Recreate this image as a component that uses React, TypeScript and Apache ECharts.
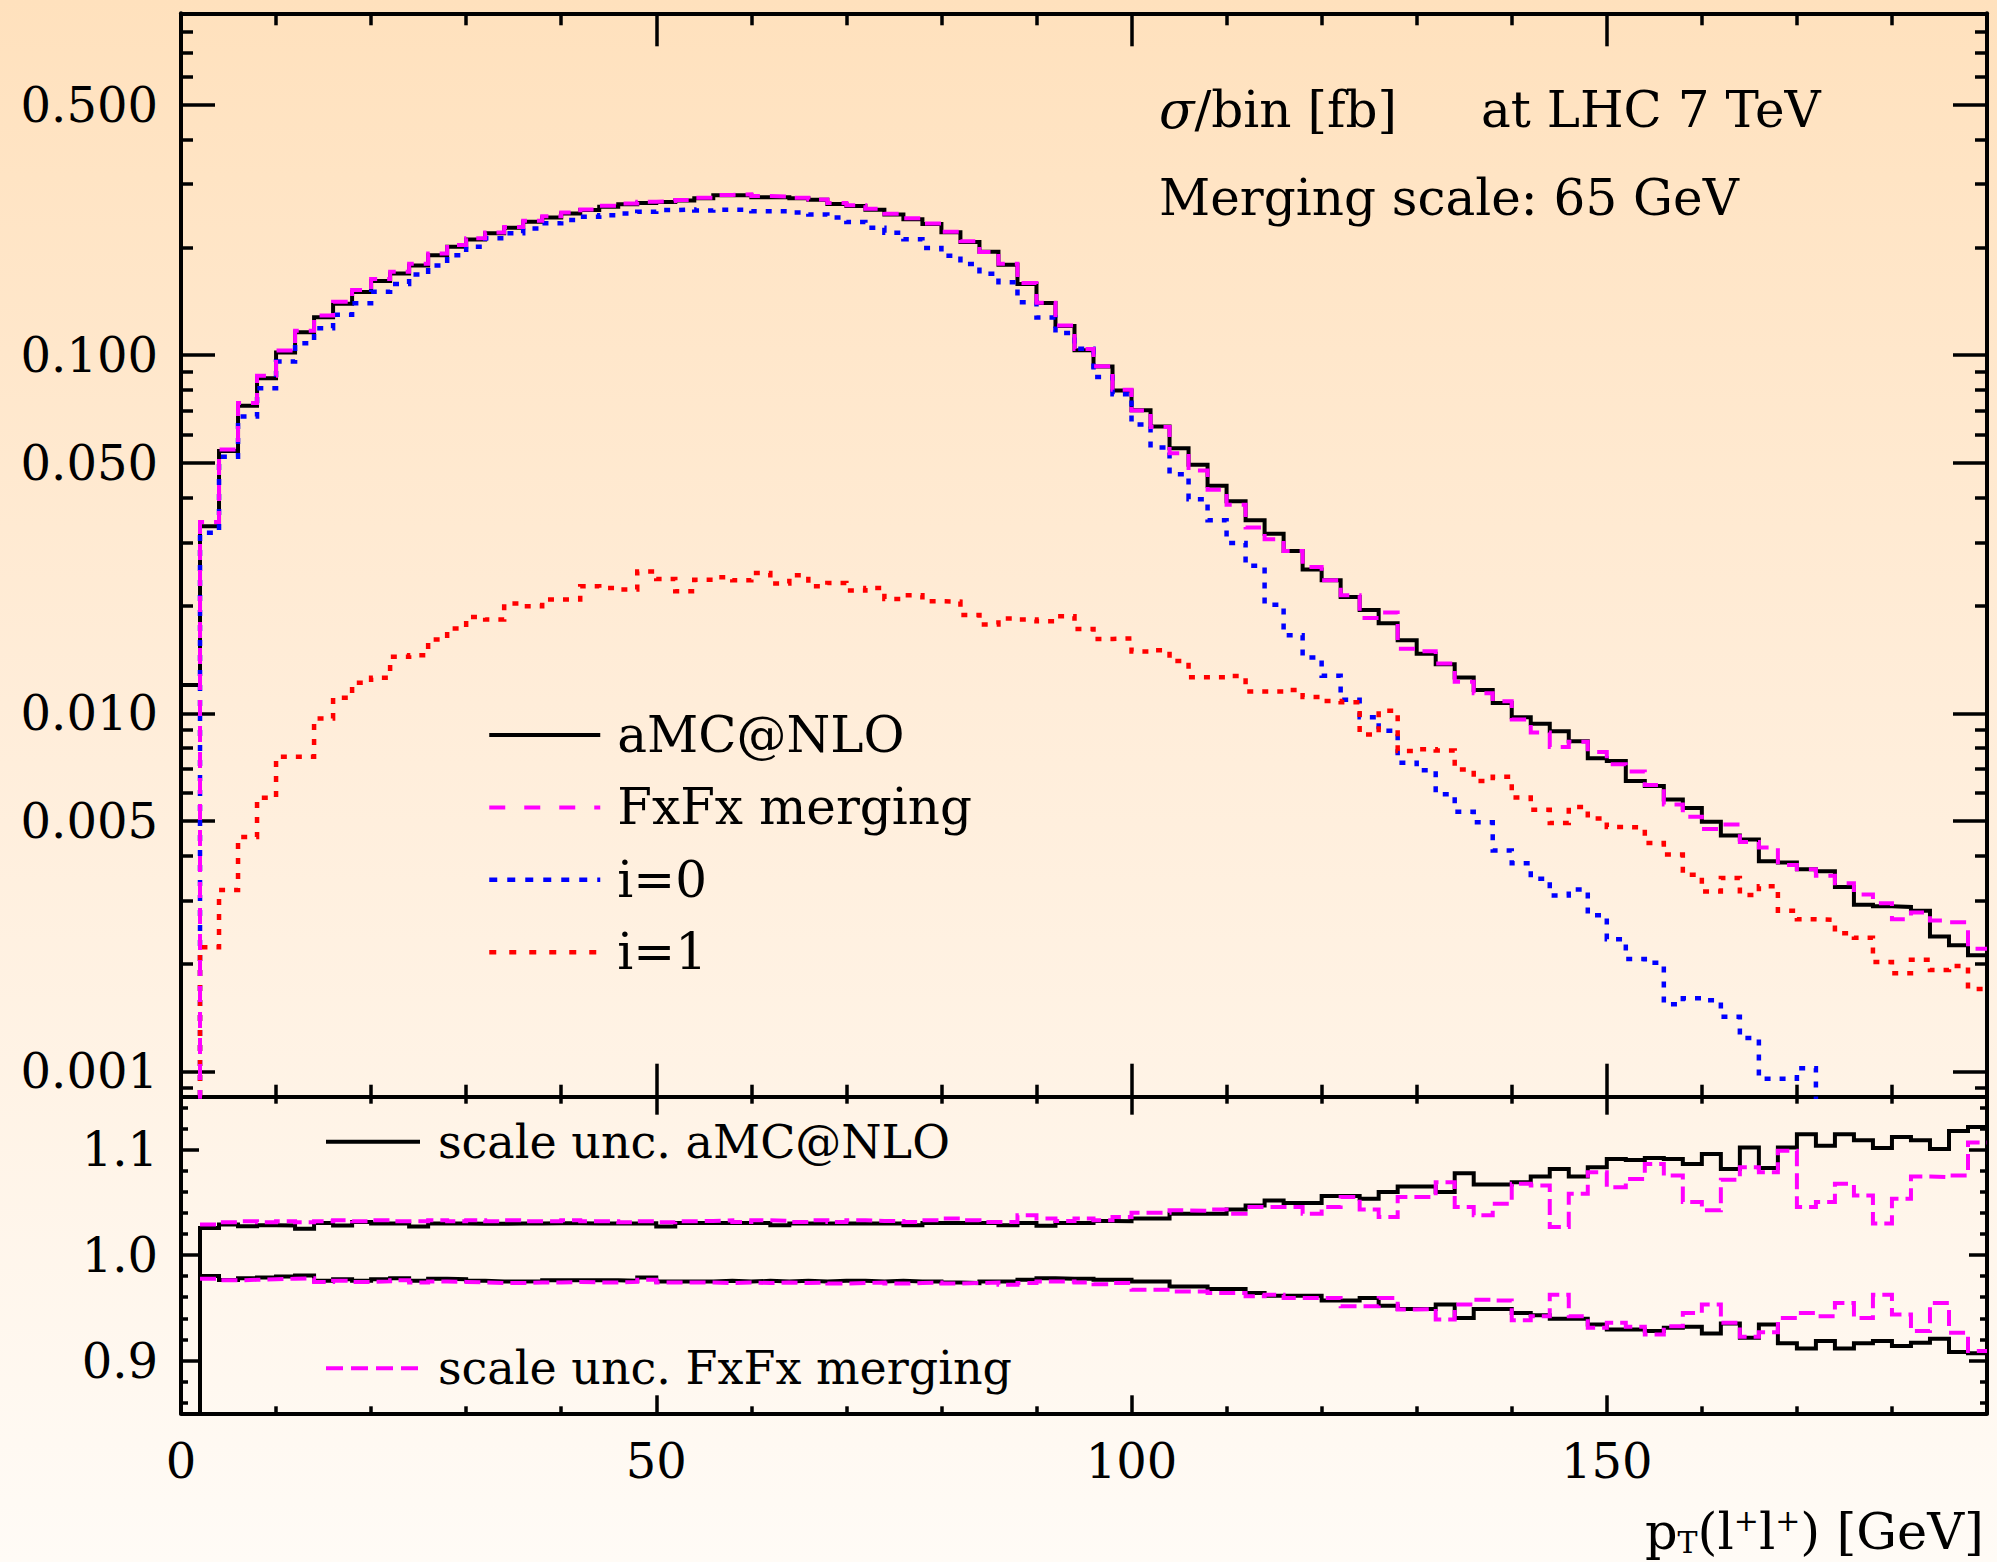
import React, { useEffect, useRef } from 'react';
import * as echarts from 'echarts';

// ---------------- data ----------------
const BIN_LOW_EDGE = 2; // GeV, lower edge of the first filled bin
const BIN_WIDTH = 2; // GeV
const X_MIN = 0;
const X_MAX = 190;

// sigma/bin [fb], bins [2,4], [4,6], ..., [188,190]
const underflowAmcnlo = 0.012; // aMC@NLO in the [0,2] bin
const emptyBin = 1e-6; // other curves: [0,2] bin below plotted range

const sigmaAmcnlo = [
  0.0333, 0.054, 0.0722, 0.0862, 0.1016, 0.1158, 0.1275, 0.139, 0.150, 0.161,
  0.169, 0.178, 0.190, 0.2007, 0.2104, 0.2187, 0.2268, 0.2357, 0.2423, 0.2486,
  0.254, 0.2595, 0.2635, 0.266, 0.2675, 0.270, 0.274, 0.2793, 0.2793, 0.276,
  0.276, 0.274, 0.2713, 0.264, 0.2609, 0.2545, 0.247, 0.2393, 0.2324, 0.2202,
  0.207, 0.1942, 0.1786, 0.158, 0.1397, 0.1206, 0.1032, 0.0929, 0.0797, 0.0701,
  0.0632, 0.0549, 0.0494, 0.0432, 0.0391, 0.0346, 0.0317, 0.0284, 0.0252, 0.0235,
  0.0211, 0.01943, 0.01784, 0.016, 0.01466, 0.0137, 0.01258, 0.01162, 0.01068, 0.00975,
  0.00935, 0.00891, 0.00835, 0.00749, 0.00736, 0.00647, 0.00626, 0.00574, 0.00544, 0.00498,
  0.00456, 0.00444, 0.00386, 0.00383, 0.00367, 0.00362, 0.00327, 0.00292, 0.00289, 0.00288,
  0.00281, 0.00238, 0.00225, 0.00211,
];

const sigmaFxFx = [
  0.0342, 0.0545, 0.0735, 0.0875, 0.103, 0.117, 0.129, 0.141, 0.152, 0.163,
  0.171, 0.180, 0.192, 0.203, 0.212, 0.220, 0.228, 0.237, 0.244, 0.250,
  0.255, 0.261, 0.265, 0.268, 0.269, 0.271, 0.275, 0.280, 0.281, 0.278,
  0.277, 0.275, 0.272, 0.266, 0.262, 0.256, 0.248, 0.241, 0.233, 0.221,
  0.208, 0.194, 0.180, 0.159, 0.140, 0.121, 0.104, 0.093, 0.080, 0.070,
  0.063, 0.0532, 0.0476, 0.0421, 0.0382, 0.033, 0.0306, 0.0284, 0.0256, 0.0235,
  0.02136, 0.01845, 0.0191, 0.01513, 0.0149, 0.01377, 0.01225, 0.01137, 0.0108, 0.0096,
  0.00883, 0.00805, 0.00833, 0.0078, 0.0072, 0.00688, 0.0063, 0.00556, 0.00514, 0.00475,
  0.00489, 0.00437, 0.00422, 0.00377, 0.00367, 0.00352, 0.00335, 0.00312, 0.00295, 0.00266,
  0.00278, 0.00264, 0.00261, 0.0022,
];

const sigmaI0 = [
  0.0319, 0.052, 0.0674, 0.0808, 0.0959, 0.1079, 0.1189, 0.1295, 0.1395, 0.1503,
  0.158, 0.168, 0.178, 0.190, 0.2007, 0.2118, 0.2187, 0.2258, 0.2332, 0.2382,
  0.2433, 0.2457, 0.2486, 0.2513, 0.254, 0.255, 0.2532, 0.2545, 0.2545, 0.252,
  0.252, 0.2502, 0.247, 0.2422, 0.2353, 0.2268, 0.2196, 0.2106, 0.1991, 0.1895,
  0.1795, 0.1688, 0.1596, 0.1404, 0.1273, 0.1153, 0.1041, 0.0869, 0.0778, 0.064,
  0.0552, 0.0465, 0.0396, 0.0346, 0.0299, 0.0258, 0.0201, 0.0165, 0.0143, 0.01272,
  0.0109, 0.00975, 0.00894, 0.00728, 0.00693, 0.00594, 0.00531, 0.00496, 0.00414, 0.00381,
  0.00345, 0.0031, 0.00322, 0.00273, 0.00234, 0.00206, 0.00201, 0.00154, 0.0016, 0.00158,
  0.00142, 0.00124, 0.000954, 0.000954, 0.00102, 0.0008, null, null, null, null,
  null, null, null, null,
];

const sigmaI1 = [
  0.00222, 0.00321, 0.00451, 0.00581, 0.00756, 0.00756, 0.00967, 0.01105, 0.01217, 0.01256,
  0.01438, 0.01452, 0.01606, 0.01724, 0.01858, 0.01827, 0.02024, 0.01989, 0.02077, 0.02077,
  0.02262, 0.02238, 0.02214, 0.02489, 0.02371, 0.0219, 0.0236, 0.02396, 0.0235, 0.02465,
  0.02301, 0.02427, 0.02262, 0.02311, 0.022, 0.02238, 0.02086, 0.02135, 0.02054, 0.0205,
  0.01882, 0.01769, 0.01838, 0.01827, 0.01807, 0.01866, 0.0172, 0.01613, 0.01617, 0.01487,
  0.015, 0.014, 0.0126, 0.0126, 0.0127, 0.0115, 0.0115, 0.01162, 0.0111, 0.01082,
  0.01074, 0.00872, 0.01016, 0.00784, 0.00793, 0.00787, 0.00696, 0.00647, 0.00665, 0.00582,
  0.00538, 0.00494, 0.00547, 0.00508, 0.00481, 0.0048, 0.00434, 0.00403, 0.00354, 0.00318,
  0.00347, 0.00311, 0.00329, 0.00281, 0.00266, 0.00265, 0.00243, 0.00236, 0.00202, 0.00188,
  0.00205, 0.00192, 0.00197, 0.0017,
];

// scale-uncertainty ratio bands (upper / lower edges)
const underflowRatio = 0; // [0,2] bin: empty
const ratioAmcUp = [
  1.0257, 1.0289, 1.0273, 1.0282, 1.028, 1.0248, 1.0304, 1.028, 1.0313, 1.0298,
  1.0298, 1.027, 1.0298, 1.0298, 1.0295, 1.0295, 1.0298, 1.0298, 1.03, 1.03,
  1.0298, 1.0298, 1.0298, 1.03, 1.027, 1.0304, 1.0304, 1.0304, 1.0304, 1.0304,
  1.0282, 1.0298, 1.0298, 1.0298, 1.0298, 1.0298, 1.0298, 1.0282, 1.0304, 1.0304,
  1.0304, 1.0304, 1.0282, 1.0304, 1.0276, 1.0304, 1.0304, 1.0323, 1.032, 1.0345,
  1.0345, 1.0392, 1.0392, 1.039, 1.043, 1.047, 1.0517, 1.0492, 1.0492, 1.0558,
  1.0558, 1.0533, 1.0596, 1.0649, 1.0649, 1.0596, 1.0774, 1.0668, 1.0668, 1.069,
  1.0743, 1.0815, 1.0743, 1.0831, 1.0909, 1.09, 1.092, 1.0909, 1.0862, 1.0956,
  1.0815, 1.1019, 1.0825, 1.1019, 1.1145, 1.1035, 1.1145, 1.1088, 1.1013, 1.1119,
  1.1088, 1.1004, 1.1176, 1.1214,
];
const ratioAmcDown = [
  0.9802, 0.9762, 0.978, 0.9787, 0.9796, 0.9806, 0.9755, 0.977, 0.9755, 0.977,
  0.978, 0.9755, 0.9775, 0.977, 0.9755, 0.9749, 0.9749, 0.9752, 0.976, 0.976,
  0.976, 0.976, 0.9755, 0.9787, 0.9749, 0.9749, 0.9749, 0.9755, 0.9749, 0.9755,
  0.9749, 0.9755, 0.9749, 0.9755, 0.9755, 0.9749, 0.9755, 0.9749, 0.9749, 0.974,
  0.9734, 0.9749, 0.9749, 0.9765, 0.978, 0.9775, 0.9775, 0.9765, 0.9765, 0.9749,
  0.9749, 0.9702, 0.9702, 0.9677, 0.9677, 0.964, 0.9614, 0.9614, 0.9614, 0.957,
  0.957, 0.9592, 0.952, 0.9489, 0.9489, 0.953, 0.9404, 0.9489, 0.9489, 0.9451,
  0.9429, 0.9395, 0.9395, 0.9341, 0.9294, 0.9294, 0.9279, 0.931, 0.932, 0.9257,
  0.9351, 0.9216, 0.9341, 0.9163, 0.9113, 0.9184, 0.9113, 0.9163, 0.9184, 0.9137,
  0.9169, 0.9207, 0.9081, 0.9069,
];
const ratioFxUp = [
  1.029, 1.031, 1.032, 1.031, 1.032, 1.031, 1.032, 1.033, 1.032, 1.033,
  1.032, 1.032, 1.033, 1.032, 1.033, 1.032, 1.033, 1.032, 1.032, 1.033,
  1.032, 1.032, 1.031, 1.032, 1.031, 1.032, 1.0323, 1.0329, 1.0313, 1.0329,
  1.0323, 1.0313, 1.0329, 1.0313, 1.0329, 1.0323, 1.0323, 1.0313, 1.0329, 1.0345,
  1.0329, 1.0313, 1.0313, 1.0376, 1.0345, 1.0323, 1.0345, 1.0329, 1.036, 1.0401,
  1.0401, 1.0423, 1.042, 1.043, 1.0392, 1.0455, 1.0455, 1.0455, 1.0392, 1.0455,
  1.0549, 1.043, 1.036, 1.0549, 1.0549, 1.069, 1.0455, 1.0376, 1.0486, 1.0674,
  1.0659, 1.0266, 1.058, 1.0784, 1.0643, 1.0721, 1.0862, 1.0753, 1.0502, 1.0423,
  1.0712, 1.0831, 1.0784, 1.0988, 1.0455, 1.0502, 1.0674, 1.0564, 1.0298, 1.0533,
  1.0743, 1.0737, 1.0753, 1.1066,
];
const ratioFxDown = [
  0.9775, 0.976, 0.9765, 0.977, 0.9775, 0.978, 0.9745, 0.9755, 0.9745, 0.975,
  0.976, 0.974, 0.975, 0.9745, 0.974, 0.9735, 0.9735, 0.974, 0.974, 0.9745,
  0.974, 0.974, 0.9745, 0.9765, 0.974, 0.974, 0.9739, 0.9734, 0.9739, 0.9734,
  0.9739, 0.9734, 0.9739, 0.9729, 0.9734, 0.9739, 0.9729, 0.9734, 0.9739, 0.9729,
  0.9734, 0.9739, 0.9718, 0.9734, 0.9749, 0.9749, 0.9739, 0.9724, 0.9734, 0.9671,
  0.9671, 0.9655, 0.9655, 0.964, 0.964, 0.9608, 0.9624, 0.9592, 0.9592, 0.9592,
  0.9514, 0.9514, 0.9592, 0.9483, 0.9489, 0.9389, 0.953, 0.9577, 0.957, 0.9382,
  0.942, 0.9624, 0.942, 0.931, 0.9357, 0.932, 0.9247, 0.9326, 0.9451, 0.953,
  0.9357, 0.9226, 0.9269, 0.9404, 0.9451, 0.942, 0.9545, 0.9404, 0.9624, 0.9436,
  0.9279, 0.9545, 0.9263, 0.909,
];

// axis ranges and ticks
const TOP_MIN = 0.00085;
const TOP_MAX = 0.9;
const BOT_MIN = 0.85;
const BOT_MAX = 1.15;
const xMajorTicks = [0, 50, 100, 150];
const xMinorTicks = [10, 20, 30, 40, 60, 70, 80, 90, 110, 120, 130, 140, 160, 170, 180];
const yTopMajorTicks = [0.001, 0.005, 0.01, 0.05, 0.1, 0.5];
const yTopMinorTicks = [
  0.0009, 0.002, 0.003, 0.004, 0.006, 0.007, 0.008, 0.009,
  0.02, 0.03, 0.04, 0.06, 0.07, 0.08, 0.09,
  0.2, 0.3, 0.4, 0.6, 0.7, 0.8,
];
const yBotMajorTicks = [0.9, 1.0, 1.1];
const yBotMinorTicks = [0.86, 0.88, 0.92, 0.94, 0.96, 0.98, 1.02, 1.04, 1.06, 1.08, 1.12, 1.14];

// ---------------- layout / style ----------------
const W = 1997;
const H = 1562;
const FONT = '"DejaVu Serif", "Liberation Serif", serif';
const BLACK = '#000000';
const MAGENTA = '#ff00ff';
const BLUE = '#0000ff';
const RED = '#ff0000';

const lg = (v: number) => Math.log10(v);
const ident = (v: number) => v;

function histPoints(values: (number | null)[], lead: [number, number] | null, tf: (v: number) => number) {
  const pts: any[] = [];
  if (lead) pts.push([lead[0], tf(lead[1])]);
  values.forEach((v, i) => pts.push([BIN_LOW_EDGE + i * BIN_WIDTH, v == null ? '-' : tf(v)]));
  const last = values[values.length - 1];
  pts.push([BIN_LOW_EDGE + values.length * BIN_WIDTH, last == null ? '-' : tf(last)]);
  return pts;
}

const frameLine = { color: BLACK, width: 4 };
const tickLine = { color: BLACK, width: 3.5 };

function xAxesFor(gridIndex: number, majorLen: number, minorLen: number, labels: boolean) {
  const base = { type: 'value', gridIndex, min: X_MIN, max: X_MAX, splitLine: { show: false }, minorTick: { show: false } };
  const major = { show: true, inside: true, length: majorLen, customValues: xMajorTicks, lineStyle: tickLine };
  const minor = { show: true, inside: true, length: minorLen, customValues: xMinorTicks, lineStyle: tickLine };
  return [
    {
      ...base, position: 'bottom',
      axisLine: { show: true, onZero: false, lineStyle: frameLine },
      axisTick: major,
      axisLabel: labels
        ? { show: true, customValues: xMajorTicks, margin: 24, fontFamily: FONT, fontSize: 48, color: BLACK, formatter: (v: number) => String(v) }
        : { show: false },
    },
    { ...base, position: 'bottom', axisLine: { show: false, onZero: false }, axisTick: minor, axisLabel: { show: false } },
    { ...base, position: 'top', axisLine: { show: true, onZero: false, lineStyle: frameLine }, axisTick: major, axisLabel: { show: false } },
    { ...base, position: 'top', axisLine: { show: false, onZero: false }, axisTick: minor, axisLabel: { show: false } },
  ];
}

function yAxesFor(
  gridIndex: number, min: number, max: number, majors: number[], minors: number[],
  majorLen: number, minorLen: number, fmt: (v: number) => string,
) {
  const base = { type: 'value', gridIndex, min, max, splitLine: { show: false }, minorTick: { show: false } };
  const major = { show: true, inside: true, length: majorLen, customValues: majors, lineStyle: tickLine };
  const minor = { show: true, inside: true, length: minorLen, customValues: minors, lineStyle: tickLine };
  return [
    {
      ...base, position: 'left',
      axisLine: { show: true, onZero: false, lineStyle: frameLine },
      axisTick: major,
      axisLabel: { show: true, customValues: majors, margin: 23, fontFamily: FONT, fontSize: 48, color: BLACK, formatter: fmt },
    },
    { ...base, position: 'left', axisLine: { show: false, onZero: false }, axisTick: minor, axisLabel: { show: false } },
    { ...base, position: 'right', axisLine: { show: true, onZero: false, lineStyle: frameLine }, axisTick: major, axisLabel: { show: false } },
    { ...base, position: 'right', axisLine: { show: false, onZero: false }, axisTick: minor, axisLabel: { show: false } },
  ];
}

function stepSeries(name: string, data: any[], xi: number, yi: number, color: string, width: number, type: any, z: number) {
  return {
    name, type: 'line', xAxisIndex: xi, yAxisIndex: yi, data, step: 'end',
    symbol: 'none', showSymbol: false, clip: true, silent: true, z,
    itemStyle: { color },
    lineStyle: { color, width, type, cap: 'butt', join: 'miter' },
    emphasis: { disabled: true },
  };
}

function buildOption() {
  const topLabel = (v: number) => Math.pow(10, v).toFixed(3);
  const botLabel = (v: number) => v.toFixed(1);
  return {
    animation: false,
    backgroundColor: 'transparent',
    grid: [
      { left: 181, top: 13.3, width: 1806, height: 1083.4, containLabel: false, outerBoundsMode: 'none' },
      { left: 181, top: 1096.7, width: 1806, height: 316.6, containLabel: false, outerBoundsMode: 'none' },
    ],
    xAxis: [...xAxesFor(0, 33, 12, false), ...xAxesFor(1, 18, 7, true)],
    yAxis: [
      ...yAxesFor(0, lg(TOP_MIN), lg(TOP_MAX), yTopMajorTicks.map(lg), yTopMinorTicks.map(lg), 34, 12, topLabel),
      ...yAxesFor(1, BOT_MIN, BOT_MAX, yBotMajorTicks, yBotMinorTicks, 18, 7, botLabel),
    ],
    legend: [
      {
        orient: 'vertical', left: 487, top: 703, padding: 0,
        itemWidth: 111, itemHeight: 4, itemGap: 8.4, selectedMode: false,
        itemStyle: { opacity: 0 },
        textStyle: { fontFamily: FONT, fontSize: 50, lineHeight: 50, color: BLACK, padding: [14, 0, 0, 12] },
        data: [
          { name: 'aMC@NLO', lineStyle: { color: BLACK, width: 4, type: 'solid' } },
          { name: 'FxFx merging', lineStyle: { color: MAGENTA, width: 4, type: [16, 19] } },
          { name: 'i=0', lineStyle: { color: BLUE, width: 4.5, type: [8, 10] } },
          { name: 'i=1', lineStyle: { color: RED, width: 4.5, type: [7, 13] } },
        ],
      },
      {
        orient: 'vertical', left: 324, top: 1114.2, padding: 0,
        itemWidth: 94, itemHeight: 4, itemGap: 171.6, selectedMode: false,
        itemStyle: { opacity: 0 },
        textStyle: { fontFamily: FONT, fontSize: 46, lineHeight: 46, color: BLACK, padding: [9, 0, 0, 13] },
        data: [
          { name: 'scale unc. aMC@NLO', lineStyle: { color: BLACK, width: 4, type: 'solid' } },
          { name: 'scale unc. FxFx merging', lineStyle: { color: MAGENTA, width: 4, type: [17, 8] } },
        ],
      },
    ],
    series: [
      stepSeries('aMC@NLO', histPoints(sigmaAmcnlo, [X_MIN, underflowAmcnlo], lg), 0, 0, BLACK, 4, 'solid', 2),
      stepSeries('i=0', histPoints(sigmaI0, [BIN_LOW_EDGE, emptyBin], lg), 0, 0, BLUE, 4.5, [6, 9], 3),
      stepSeries('i=1', histPoints(sigmaI1, [BIN_LOW_EDGE, emptyBin], lg), 0, 0, RED, 4.5, [6, 9], 3),
      stepSeries('FxFx merging', histPoints(sigmaFxFx, [BIN_LOW_EDGE, emptyBin], lg), 0, 0, MAGENTA, 4, [16, 10], 4),
      stepSeries('scale unc. aMC@NLO', histPoints(ratioAmcUp, [X_MIN, underflowRatio], ident), 4, 4, BLACK, 4, 'solid', 2),
      stepSeries('scale unc. aMC@NLO', histPoints(ratioAmcDown, [X_MIN, underflowRatio], ident), 4, 4, BLACK, 4, 'solid', 2),
      stepSeries('scale unc. FxFx merging', histPoints(ratioFxUp, null, ident), 4, 4, MAGENTA, 4, [16, 7], 4),
      stepSeries('scale unc. FxFx merging', histPoints(ratioFxDown, null, ident), 4, 4, MAGENTA, 4, [16, 7], 4),
    ],
    graphic: [
      {
        type: 'text', x: 1159, y: 109.5, silent: true,
        style: {
          text: '{i|σ}/bin [fb]{g| }at LHC 7 TeV',
          fontFamily: FONT, fontSize: 50, fill: BLACK,
          align: 'left', verticalAlign: 'middle', textAlign: 'left', textVerticalAlign: 'middle',
          rich: {
            i: { fontFamily: FONT, fontSize: 52, fontStyle: 'italic', fill: BLACK },
            g: { fontFamily: FONT, fontSize: 50, width: 84 },
          },
        },
      },
      {
        type: 'text', x: 1159, y: 197.5, silent: true,
        style: {
          text: 'Merging scale: 65 GeV',
          fontFamily: FONT, fontSize: 50, fill: BLACK,
          align: 'left', verticalAlign: 'middle', textAlign: 'left', textVerticalAlign: 'middle',
        },
      },
      {
        type: 'text', x: 1984, y: 1505, silent: true,
        style: {
          text: 'p{sub|T}(l{sup|+}l{sup|+}) [GeV]',
          fontFamily: FONT, fontSize: 51, lineHeight: 52, fill: BLACK,
          align: 'right', verticalAlign: 'top', textAlign: 'right', textVerticalAlign: 'top',
          rich: {
            sub: { fontFamily: FONT, fontSize: 30, lineHeight: 30, verticalAlign: 'bottom', fill: BLACK },
            sup: { fontFamily: FONT, fontSize: 30, lineHeight: 20, verticalAlign: 'top', fill: BLACK },
          },
        },
      },
    ],
  };
}

export default function App() {
  const ref = useRef<HTMLDivElement>(null);
  useEffect(() => {
    if (!ref.current) return;
    const chart = echarts.init(ref.current, null, { renderer: 'svg', width: W, height: H });
    chart.setOption(buildOption() as any);
    return () => chart.dispose();
  }, []);
  return (
    <div
      ref={ref}
      style={{
        position: 'fixed', left: 0, top: 0, width: W, height: H,
        background: 'linear-gradient(to bottom, #ffe1bd 0%, #ffedd9 45%, #fffbf6 100%)',
      }}
    />
  );
}
